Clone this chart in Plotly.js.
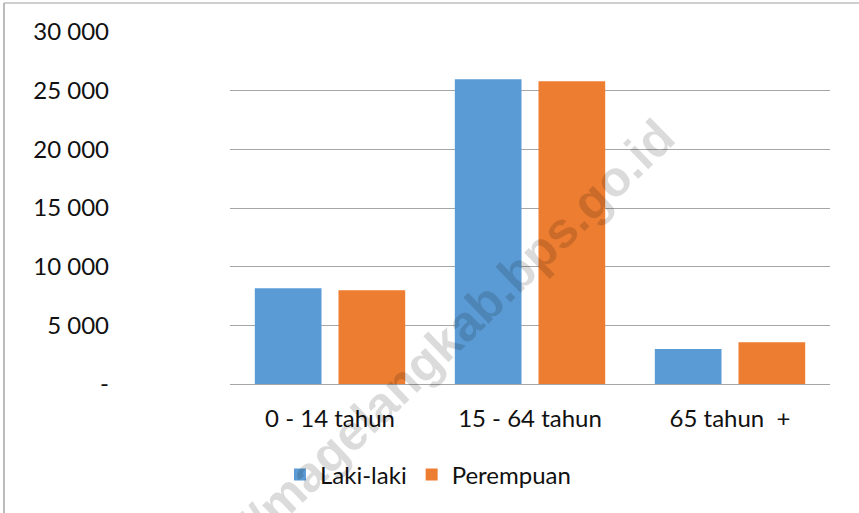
<!DOCTYPE html>
<html>
<head>
<meta charset="utf-8">
<script src="https://cdn.plot.ly/plotly-3.0.1.min.js"></script>
<style>html,body{margin:0;padding:0;background:#fff;}#chart{width:859px;height:513px;}</style>
</head>
<body>
<div id="chart"></div>
<script>
const categories = ["0 - 14 tahun", "15 - 64 tahun", "65 tahun\u00a0 +"];
const lakiLaki = [8160, 25970, 2980];
const perempuan = [7990, 25800, 3550];
const yTickVals = [0, 5000, 10000, 15000, 20000, 25000, 30000];
const yTickText = ["-", "5 000", "10 000", "15 000", "20 000", "25 000", "30 000"];

const FONT = "Lato, 'Open Sans', sans-serif";
const textColor = "#111111";

const traces = [
  {type: "bar", name: "Laki-laki", x: categories, y: lakiLaki,
   marker: {color: "#5B9BD5", line: {width: 0}}, hoverinfo: "none"},
  {type: "bar", name: "Perempuan", x: categories, y: perempuan,
   marker: {color: "#ED7D31", line: {width: 0}}, hoverinfo: "none"}
];

const layout = {
  width: 859, height: 513,
  margin: {l: 230, r: 29, t: 32, b: 129},
  paper_bgcolor: "#fff", plot_bgcolor: "#fff",
  font: {family: FONT, size: 24, color: textColor},
  barmode: "group",
  bargap: 0.163,
  bargroupgap: 0.203,
  xaxis: {
    type: "category",
    showgrid: false, showline: false, zeroline: false,
    ticks: "", ticklabelstandoff: 18,
    tickfont: {family: FONT, size: 24, color: textColor}
  },
  yaxis: {
    range: [0, 30000],
    tickvals: yTickVals, ticktext: yTickText,
    showgrid: true, gridcolor: "#a6a6a6", gridwidth: 1,
    zeroline: true, zerolinecolor: "#a6a6a6", zerolinewidth: 1,
    showline: false, ticks: "",
    ticklabelstandoff: 120,
    tickfont: {family: FONT, size: 24, color: textColor}
  },
  showlegend: true,
  legend: {
    orientation: "h",
    x: 0.0833, xanchor: "left",
    y: -0.2585, yanchor: "middle",
    font: {family: FONT, size: 24, color: textColor},
    itemwidth: 30,
    bgcolor: "rgba(0,0,0,0)"
  },
  shapes: [
    {type: "line", xref: "paper", yref: "paper", x0: -0.3767, x1: 1.1, y0: 1.0824, y1: 1.0824,
     line: {color: "#bfbfbf", width: 1.5}},
    {type: "line", xref: "paper", yref: "paper", x0: -0.3767, x1: -0.3767, y0: 1.0824, y1: -0.4,
     line: {color: "#a6a6a6", width: 1.5}}
  ],
  annotations: [
    {text: "<b>http://magelangkab.bps.go.id</b>", xref: "paper", yref: "paper",
     x: 0.31, y: 0.04, xanchor: "center", yanchor: "middle", showarrow: false,
     textangle: -44, font: {family: "Liberation Sans, Arial, sans-serif", size: 50, color: "rgba(0,0,0,0.14)"}}
  ]
};

Plotly.newPlot("chart", traces, layout, {displayModeBar: false, staticPlot: true});
</script>
</body>
</html>
